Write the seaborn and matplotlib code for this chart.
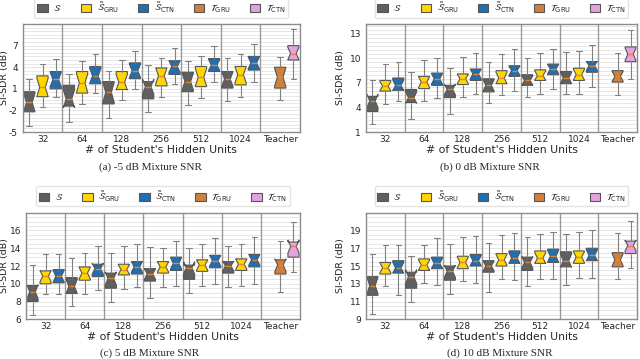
import matplotlib
matplotlib.use('Agg')
import matplotlib.pyplot as plt
from matplotlib.patches import Patch
import numpy as np
import pandas as pd
import seaborn as sns

sns.set_style('white')
plt.rcParams['axes.unicode_minus'] = False

units = ['32', '64', '128', '256', '512', '1024']
groups = units + ['Teacher']

# five-number summaries: (low whisker, q1, median, q3, high whisker), dB
# -5 dB mixture SNR
m5_S = [(-4.1, -2.2, -0.9, 0.6, 2.3), (-3.6, -1.4, -0.4, 1.5, 3.1), (-3.1, -1.1, 0.5, 2.0, 3.5),
        (-2.2, -0.4, 1.3, 2.0, 4.3), (-1.3, 0.6, 2.0, 3.3, 4.8), (-0.65, 1.1, 2.35, 3.4, 5.3)]
m5_GRU = [(-1.5, -0.1, 1.2, 2.8, 4.5), (-1.1, 0.4, 1.8, 3.4, 4.8), (-0.5, 0.9, 1.9, 3.4, 5.0),
          (-0.2, 1.4, 2.8, 3.9, 5.3), (-0.3, 1.3, 2.6, 4.1, 5.5), (-0.2, 1.55, 2.95, 4.1, 5.8)]
m5_CTN = [(-0.1, 1.0, 2.3, 3.4, 5.2), (0.4, 1.7, 2.8, 4.1, 5.8), (1.0, 2.4, 3.5, 4.6, 6.3),
          (1.6, 3.0, 4.1, 4.9, 6.7), (1.9, 3.4, 4.3, 5.2, 7.0), (2.0, 3.6, 4.6, 5.5, 7.2)]
m5_T_GRU = (-0.5, 1.1, 2.6, 4.0, 5.4)
m5_T_CTN = (2.35, 5.0, 5.9, 7.0, 9.3)

# 0 dB mixture SNR
z0_S = [(1.95, 3.5, 4.8, 5.35, 7.4), (2.6, 4.6, 5.2, 6.2, 8.3), (3.2, 5.2, 6.2, 6.7, 8.8),
        (4.5, 5.9, 6.7, 7.5, 9.6), (5.3, 6.7, 7.3, 8.0, 10.1), (5.6, 6.9, 7.6, 8.4, 10.8)]
z0_GRU = [(4.4, 6.0, 6.6, 7.3, 9.3), (4.8, 6.3, 7.1, 7.8, 9.8), (5.3, 6.8, 7.5, 8.1, 10.2),
          (5.5, 6.9, 7.6, 8.5, 10.5), (5.6, 7.3, 7.9, 8.6, 10.6), (5.7, 7.3, 8.0, 8.8, 10.9)]
z0_CTN = [(4.8, 6.1, 6.7, 7.6, 9.5), (5.1, 6.7, 7.5, 8.2, 10.1), (5.7, 7.3, 8.1, 8.7, 10.6),
          (6.0, 7.8, 8.5, 9.1, 11.1), (6.3, 8.0, 8.7, 9.3, 11.2), (6.5, 8.3, 9.1, 9.6, 11.6)]
z0_T_GRU = (5.5, 7.1, 7.8, 8.5, 10.6)
z0_T_CTN = (7.5, 9.6, 10.5, 11.4, 13.5)

# 5 dB mixture SNR
p5_S = [(6.5, 8.0, 9.1, 9.8, 12.1), (7.5, 8.9, 9.7, 10.7, 12.9), (7.9, 9.5, 10.6, 11.2, 13.5),
        (8.4, 10.3, 11.1, 11.7, 14.1), (9.0, 10.5, 11.8, 12.1, 14.0), (9.6, 11.2, 12.0, 12.5, 14.2)]
p5_GRU = [(8.8, 10.0, 10.85, 11.45, 13.4), (8.8, 10.4, 11.2, 11.9, 13.5), (9.4, 11.0, 11.6, 12.2, 14.3),
          (9.6, 11.2, 11.9, 12.5, 14.0), (9.7, 11.4, 12.1, 12.7, 14.5), (9.8, 11.5, 12.2, 12.8, 14.5)]
p5_CTN = [(8.9, 10.1, 10.85, 11.6, 13.3), (9.3, 10.8, 11.7, 12.2, 14.25), (9.6, 11.1, 11.9, 12.5, 14.5),
          (9.8, 11.5, 12.3, 13.0, 14.8), (10.0, 11.8, 12.6, 13.2, 15.1), (10.0, 11.9, 12.7, 13.3, 15.3)]
p5_T_GRU = (9.1, 11.1, 12.1, 12.7, 14.8)
p5_T_CTN = (11.3, 13.0, 14.2, 14.7, 17.0)

# 10 dB mixture SNR
p10_S = [(9.6, 11.7, 12.8, 13.8, 16.4), (10.9, 12.5, 13.8, 14.3, 16.1), (11.8, 13.4, 14.4, 15.0, 17.5),
         (12.1, 14.3, 15.0, 15.6, 17.6), (12.8, 14.5, 15.4, 16.0, 18.3), (12.9, 14.9, 15.6, 16.6, 18.6)]
p10_GRU = [(12.8, 14.1, 14.8, 15.4, 17.4), (13.1, 14.5, 15.1, 15.8, 17.4), (13.3, 14.7, 15.4, 16.1, 18.3),
           (13.5, 15.0, 15.7, 16.4, 18.5), (13.5, 15.3, 15.9, 16.7, 18.6), (13.6, 15.3, 16.0, 16.7, 18.8)]
p10_CTN = [(11.7, 14.2, 14.8, 15.6, 17.4), (12.9, 14.7, 15.3, 16.0, 18.1), (13.1, 15.0, 15.6, 16.3, 18.4),
           (13.4, 15.3, 15.9, 16.7, 18.7), (13.5, 15.4, 16.1, 16.9, 18.8), (13.6, 15.6, 16.2, 17.0, 19.0)]
p10_T_GRU = (13.5, 14.9, 15.7, 16.5, 18.7)
p10_T_CTN = (14.8, 16.4, 17.3, 17.8, 20.1)

slots = ['S', 'GRU', 'CTN']
slot_colors = {'S': '#606060', 'GRU': '#ffd700', 'CTN': '#1f6fb2'}
teacher_colors = {'GRU': '#d0803c', 'CTN': '#e4a2e0'}
legend_labels = [r'$\mathcal{S}$', r'$\tilde{\mathcal{S}}_{\mathrm{GRU}}$', r'$\tilde{\mathcal{S}}_{\mathrm{CTN}}$',
                 r'$\mathcal{T}_{\mathrm{GRU}}$', r'$\mathcal{T}_{\mathrm{CTN}}$']
legend_colors = [slot_colors['S'], slot_colors['GRU'], slot_colors['CTN'],
                 teacher_colors['GRU'], teacher_colors['CTN']]


def expand(summary):
    # 13 samples whose quartiles equal the summary (linear quantiles)
    lo, q1, med, q3, hi = summary
    return [lo] + [q1] * 3 + [med] * 5 + [q3] * 3 + [hi]


def build_frame(S, GRU, CTN, T_GRU, T_CTN):
    rows = []
    for slot, stats in zip(slots, [S, GRU, CTN]):
        for u, s in zip(units, stats):
            rows += [(u, slot, v) for v in expand(s)]
    rows += [('Teacher', 'GRU', v) for v in expand(T_GRU)]
    rows += [('Teacher', 'CTN', v) for v in expand(T_CTN)]
    return pd.DataFrame(rows, columns=['units', 'slot', 'sdr'])


# (frame, ylim, yticks, caption, axes box in px, ylabel x in px, caption centre in px)
panels = [
    (build_frame(m5_S, m5_GRU, m5_CTN, m5_T_GRU, m5_T_CTN), (-5, 10), [-5, -2, 1, 4, 7],
     '(a) -5 dB Mixture SNR', [22.7, 24, 300, 132], 5, 150, 167),
    (build_frame(z0_S, z0_GRU, z0_CTN, z0_T_GRU, z0_T_CTN), (1, 14.2), [1, 4, 7, 10, 13],
     '(b) 0 dB Mixture SNR', [366, 24, 637, 132], 340, 490, 167),
    (build_frame(p5_S, p5_GRU, p5_CTN, p5_T_GRU, p5_T_CTN), (6, 18), [6, 8, 10, 12, 14, 16],
     '(c) 5 dB Mixture SNR', [26, 212.7, 300, 319.3], 5, 150, 352.7),
    (build_frame(p10_S, p10_GRU, p10_CTN, p10_T_GRU, p10_T_CTN), (9, 21), [9, 11, 13, 15, 17, 19],
     '(d) 10 dB Mixture SNR', [366, 212.7, 637, 319.3], 340, 500, 352.7),
]

W, H = 640, 359
fig = plt.figure(figsize=(W / 100, H / 100), dpi=100)

for df, ylim, yticks, caption, box, ylx, cx, cy in panels:
    x0, y0, x1, y1 = box
    ax = fig.add_axes([x0 / W, 1 - y1 / H, (x1 - x0) / W, (y1 - y0) / H])
    sns.boxplot(data=df, x='units', y='sdr', hue='slot', order=groups, hue_order=slots,
                palette=slot_colors, saturation=1, notch=True, whis=(0, 100), width=1.0, gap=0.15,
                linecolor='#555555', linewidth=0.8, fliersize=0, legend=False, ax=ax,
                medianprops=dict(color='#e8842a', linewidth=1),
                whiskerprops=dict(color='#808080', linewidth=0.8),
                capprops=dict(color='#808080', linewidth=0.8))
    # teacher boxes get their own colours
    for p in ax.patches:
        xm = p.get_path().vertices[:, 0].mean()
        if xm > 5.6:
            p.set_facecolor(teacher_colors['GRU'] if xm < 6.15 else teacher_colors['CTN'])

    for i in range(len(groups) - 1):
        ax.axvline(i + 0.5, color='#999999', lw=1, zorder=1)
    ax.set_xlim(-0.5, len(groups) - 0.5)
    ax.set_ylim(*ylim)
    ax.set_yticks(yticks)
    ax.set_yticks(np.arange(ylim[0], ylim[1] + 0.01, 0.5), minor=True)
    ax.grid(which='both', axis='y', color='#e3e3e3', lw=0.6)
    ax.set_axisbelow(True)
    ax.tick_params(axis='y', which='major', length=2.5, labelsize=6.5, color='#555555', pad=1)
    ax.tick_params(axis='y', which='minor', length=0)
    ax.tick_params(axis='x', length=0, labelsize=6.5, pad=2)
    for s in ax.spines.values():
        s.set_color('#8c8c8c')
        s.set_linewidth(1)
    ax.set_xlabel("# of Student's Hidden Units", fontsize=7.8, labelpad=1)
    ax.set_ylabel('SI-SDR (dB)', fontsize=6.8)
    ax.yaxis.set_label_coords((ylx - x0) / (x1 - x0), 0.5)
    ax.yaxis.label.set_verticalalignment('center')

    handles = [Patch(facecolor=c, edgecolor='#555555', linewidth=0.8) for c in legend_colors]
    ax.legend(handles, legend_labels, loc='lower center', bbox_to_anchor=(0.5, 1.015), ncol=5,
              fontsize=6.8, frameon=True, handlelength=1.1, handleheight=0.9, columnspacing=2.0,
              handletextpad=0.6, borderpad=0.3, edgecolor='#dddddd', fancybox=True)

    fig.text(cx / W, 1 - cy / H, caption, ha='center', va='center',
             family='Liberation Serif', fontsize=8)

fig.savefig('out.png', dpi=100)
